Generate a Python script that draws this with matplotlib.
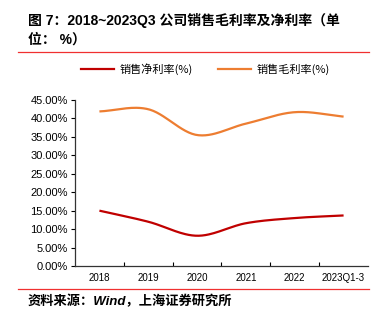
import numpy as np
import matplotlib
matplotlib.use("Agg")
import matplotlib.pyplot as plt
from matplotlib.lines import Line2D

plt.rcParams['font.family'] = ['Liberation Sans', 'Noto Sans CJK SC', 'DejaVu Sans']

categories = ["2018", "2019", "2020", "2021", "2022", "2023Q1-3"]
net_margin = [15.0, 12.0, 8.2, 11.6, 13.0, 13.7]
gross_margin = [41.9, 42.5, 35.5, 38.6, 41.7, 40.5]
yticks = [0, 5, 10, 15, 20, 25, 30, 35, 40, 45]
series_names = ["销售净利率(%)", "销售毛利率(%)"]
title_l1 = "图 7：2018~2023Q3 公司销售毛利率及净利率（单"
title_l2 = "位： %）"
source = "资料来源：Wind，上海证券研究所"


def smooth(y, n=30):
    # Catmull-Rom style smoothing for drawing (Excel-like smoothed line)
    x = np.arange(len(y), dtype=float)
    y = np.asarray(y, dtype=float)
    px = np.concatenate([[2 * x[0] - x[1]], x, [2 * x[-1] - x[-2]]])
    py = np.concatenate([[2 * y[0] - y[1]], y, [2 * y[-1] - y[-2]]])
    xs, ys = [], []
    for i in range(1, len(px) - 2):
        p0, p1, p2, p3 = (np.array([px[j], py[j]]) for j in range(i - 1, i + 3))
        b1 = p1 + (p2 - p0) / 6.0
        b2 = p2 - (p3 - p1) / 6.0
        t = np.linspace(0, 1, n)[:, None]
        pts = (1 - t) ** 3 * p1 + 3 * (1 - t) ** 2 * t * b1 + 3 * (1 - t) * t ** 2 * b2 + t ** 3 * p2
        xs.extend(pts[:, 0]); ys.extend(pts[:, 1])
    return np.array(xs), np.array(ys)


fig = plt.figure(figsize=(3.84, 3.25), dpi=100)
ax = fig.add_axes([75 / 384, (325 - 266) / 325, 293 / 384, 166 / 325])

xn, yn = smooth(net_margin)
xg, yg = smooth(gross_margin)
ax.plot(xn, yn, color="#C00000", lw=1.6, solid_capstyle="butt")
ax.plot(xg, yg, color="#ED7D31", lw=1.6, solid_capstyle="butt")

ax.set_xlim(-0.5, len(categories) - 0.5)
ax.set_ylim(0, 45)
ax.set_yticks(yticks)
ax.set_yticklabels([f"{v:.2f}%" for v in yticks], fontsize=8)
ax.set_xticks(range(len(categories)))
ax.set_xticklabels(categories, fontsize=7)
ax.set_xticks(np.arange(0.5, len(categories) - 0.5, 1), minor=True)
ax.tick_params(axis="x", which="major", length=0, pad=5)
ax.tick_params(axis="x", which="minor", length=3, direction="in", width=0.8)
ax.tick_params(axis="y", length=3, direction="out", width=0.8, pad=2)
for s in ["top", "right"]:
    ax.spines[s].set_visible(False)
for s in ["left", "bottom"]:
    ax.spines[s].set_linewidth(0.9)
    ax.spines[s].set_color("#333333")

handles = [Line2D([], [], color="#C00000", lw=1.6), Line2D([], [], color="#ED7D31", lw=1.6)]
fig.legend(handles, series_names, loc="center", bbox_to_anchor=(0.535, 1 - 69 / 325),
           ncol=2, frameon=False, handlelength=3.0, columnspacing=2.2,
           handletextpad=0.5, prop={'family': ['Noto Sans CJK SC', 'DejaVu Sans'], 'size': 8})

fig.text(28 / 384, 1 - 20 / 325, title_l1, fontsize=10, fontweight="bold", va="center", ha="left")
fig.text(28 / 384, 1 - 40 / 325, title_l2, fontsize=10, fontweight="bold", va="center", ha="left")
fig.add_artist(Line2D([18 / 384, 369 / 384], [1 - 52 / 325, 1 - 52 / 325], color="#F03030", lw=0.9))
fig.add_artist(Line2D([18 / 384, 369 / 384], [1 - 289 / 325, 1 - 289 / 325], color="#F03030", lw=0.9))
fig.text(28 / 384, 1 - 301 / 325, source, fontsize=9.5, fontweight="bold", style="italic",
         va="center", ha="left")

fig.savefig("out.png", dpi=100, facecolor="white")
